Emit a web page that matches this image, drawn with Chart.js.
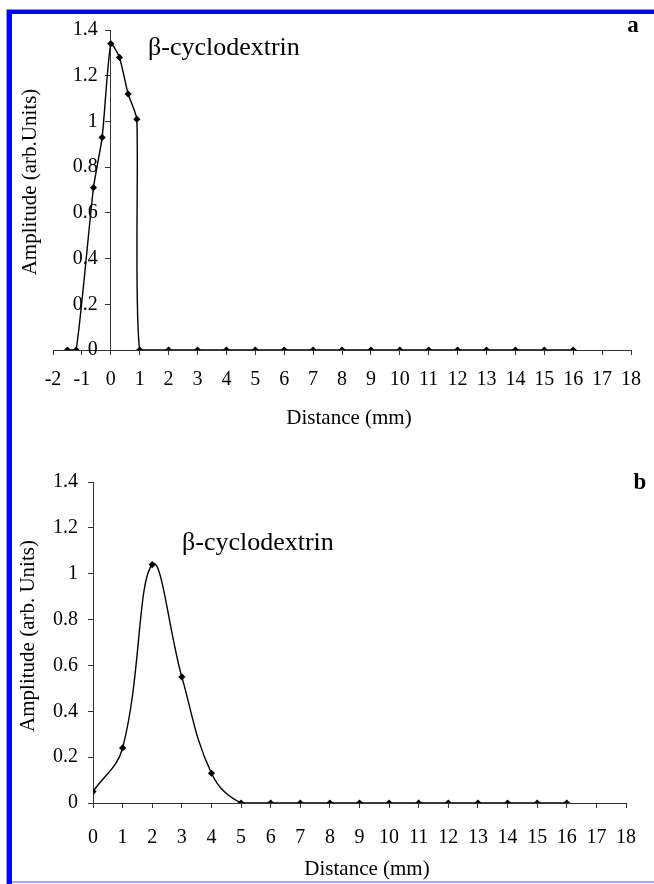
<!DOCTYPE html>
<html><head><meta charset="utf-8">
<script src="https://cdn.jsdelivr.net/npm/chart.js@4.4.1/dist/chart.umd.min.js"></script>
<style>
html,body{margin:0;padding:0;background:#fff;}
#wrap{position:relative;width:654px;height:884px;overflow:hidden;background:#fff;}
.cv{position:absolute;left:0;}
.bar{position:absolute;}
</style></head><body>
<div id="wrap">
  <canvas id="chartA" class="cv" width="654" height="440" style="top:0;"></canvas>
  <canvas id="chartB" class="cv" width="654" height="444" style="top:440px;"></canvas>
  <div class="bar" style="left:6px;top:9px;width:648px;height:1px;background:#8c8cff"></div>
  <div class="bar" style="left:6px;top:10px;width:648px;height:4px;background:#0000ff"></div>
  <div class="bar" style="left:6px;top:9px;width:1px;height:875px;background:#8c8cff"></div>
  <div class="bar" style="left:7px;top:10px;width:5px;height:874px;background:#0000ff"></div>
  <div class="bar" style="left:12px;top:881px;width:642px;height:2px;background:#a8a8ff"></div>
</div>
<script>
// ---- data ----
const distA = [-1.5, -1.2, -0.6, -0.3, 0, 0.3, 0.6, 0.9, 1, 2, 3, 4, 5, 6, 7, 8, 9, 10, 11, 12, 13, 14, 15, 16];
const ampA  = [0, 0, 0.71, 0.93, 1.34, 1.28, 1.12, 1.01, 0, 0, 0, 0, 0, 0, 0, 0, 0, 0, 0, 0, 0, 0, 0, 0];
const distB = [0, 1, 2, 3, 4, 5, 6, 7, 8, 9, 10, 11, 12, 13, 14, 15, 16];
const ampB  = [0.05, 0.24, 1.04, 0.55, 0.13, 0, 0, 0, 0, 0, 0, 0, 0, 0, 0, 0, 0];
const xTicksA = [-2, -1, 0, 1, 2, 3, 4, 5, 6, 7, 8, 9, 10, 11, 12, 13, 14, 15, 16, 17, 18];
const xTicksB = [0, 1, 2, 3, 4, 5, 6, 7, 8, 9, 10, 11, 12, 13, 14, 15, 16, 17, 18];
const yTicks = [0, 0.2, 0.4, 0.6, 0.8, 1, 1.2, 1.4];
const yTickLabels = ['0', '0.2', '0.4', '0.6', '0.8', '1', '1.2', '1.4'];
const xTitle = 'Distance (mm)';
const yTitleA = 'Amplitude (arb.Units)';
const yTitleB = 'Amplitude (arb. Units)';
const seriesName = 'β-cyclodextrin';

const FONT = '"Liberation Serif", "Times New Roman", serif';
const AX = '#333';

const txtPlugin = {
  id: 'txt',
  afterLayout(chart, args, opts) {
    // shift labels of an axis positioned at x=0 away from its line
    const s = chart.scales.y;
    if (opts.yShift && !s._patched) {
      const orig = s._computeLabelItems;
      s._computeLabelItems = function (ca) {
        const items = orig.call(this, ca);
        items.forEach(it => { it.options.translation[0] -= opts.yShift; });
        return items;
      };
      s._patched = true;
    }
  },
  afterDraw(chart, args, opts) {
    const ctx = chart.ctx;
    (opts.items || []).forEach(it => {
      ctx.save();
      ctx.fillStyle = '#000';
      ctx.font = it.font;
      ctx.textAlign = it.align || 'center';
      ctx.textBaseline = 'middle';
      ctx.translate(it.x, it.y);
      if (it.rot) ctx.rotate(it.rot);
      ctx.fillText(it.text, 0, 0);
      ctx.restore();
    });
  }
};

function mkPts(xs, ys) { return xs.map((x, i) => ({x: x, y: ys[i]})); }

function makeChart(id, xs, ys, xTicks, xmin, opts) {
  return new Chart(document.getElementById(id), {
    type: 'line',
    data: { datasets: [{
      label: seriesName,
      data: mkPts(xs, ys),
      borderColor: '#000', borderWidth: 1.4,
      pointStyle: 'rectRot', pointRadius: 3.6, pointBackgroundColor: '#000', pointBorderWidth: 0,
      tension: opts.tension, fill: false
    }]},
    options: {
      responsive: false, animation: false,
      layout: { padding: opts.padding },
      plugins: { legend: {display: false}, tooltip: {enabled: false}, txt: {items: opts.texts, yShift: opts.yShift} },
      scales: {
        x: {
          type: 'linear', min: xmin, max: 18,
          afterBuildTicks: s => { s.ticks = xTicks.map(v => ({value: v})); },
          afterFit: s => { s.height = opts.xh; },
          grid: {drawOnChartArea: false, drawTicks: true, tickLength: 5, color: AX, tickColor: AX},
          border: {color: AX, width: 1},
          ticks: {color: '#000', font: {family: FONT, size: 20}, padding: opts.xpad, maxRotation: 0, autoSkip: false,
                  callback: v => String(v)},
          title: {display: false, text: xTitle}
        },
        y: Object.assign({
          type: 'linear', min: 0, max: 1.4,
          afterBuildTicks: s => { s.ticks = yTicks.map(v => ({value: v})); },
          grid: {drawOnChartArea: false, drawTicks: true, tickLength: 5, color: AX, tickColor: AX},
          border: {color: AX, width: 1},
          ticks: {color: '#000', font: {family: FONT, size: 20}, padding: opts.ypad,
                  callback: (v, i) => yTickLabels[i]}
        }, opts.yextra)
      }
    },
    plugins: [txtPlugin]
  });
}

makeChart('chartA', distA, ampA, xTicksA, -2, {
  padding: {left: 53, right: 22, top: 30, bottom: 0}, xh: 90, xpad: 13, ypad: 8, yShift: 13,
  tension: 0.2,
  yextra: {position: {x: 0}},
  texts: [
    {text: xTitle, x: 349, y: 418, font: '21px ' + FONT},
    {text: yTitleA, x: 30, y: 182, rot: -Math.PI / 2, font: '21px ' + FONT},
    {text: seriesName, x: 148, y: 48, align: 'left', font: '26px ' + FONT},
    {text: 'a', x: 633, y: 26, font: 'bold 23px ' + FONT}
  ]
});

makeChart('chartB', distB, ampB, xTicksB, 0, {
  padding: {left: 0, right: 11, top: 42, bottom: 0}, xh: 81, xpad: 18, ypad: 10, yShift: 0,
  tension: 0.4,
  yextra: {position: 'left', afterFit: s => { s.width = 93; }},
  texts: [
    {text: xTitle, x: 367, y: 429, font: '21px ' + FONT},
    {text: yTitleB, x: 28, y: 196, rot: -Math.PI / 2, font: '21px ' + FONT},
    {text: seriesName, x: 182, y: 103, align: 'left', font: '26px ' + FONT},
    {text: 'b', x: 640, y: 43, font: 'bold 23px ' + FONT}
  ]
});
</script>
</body></html>
